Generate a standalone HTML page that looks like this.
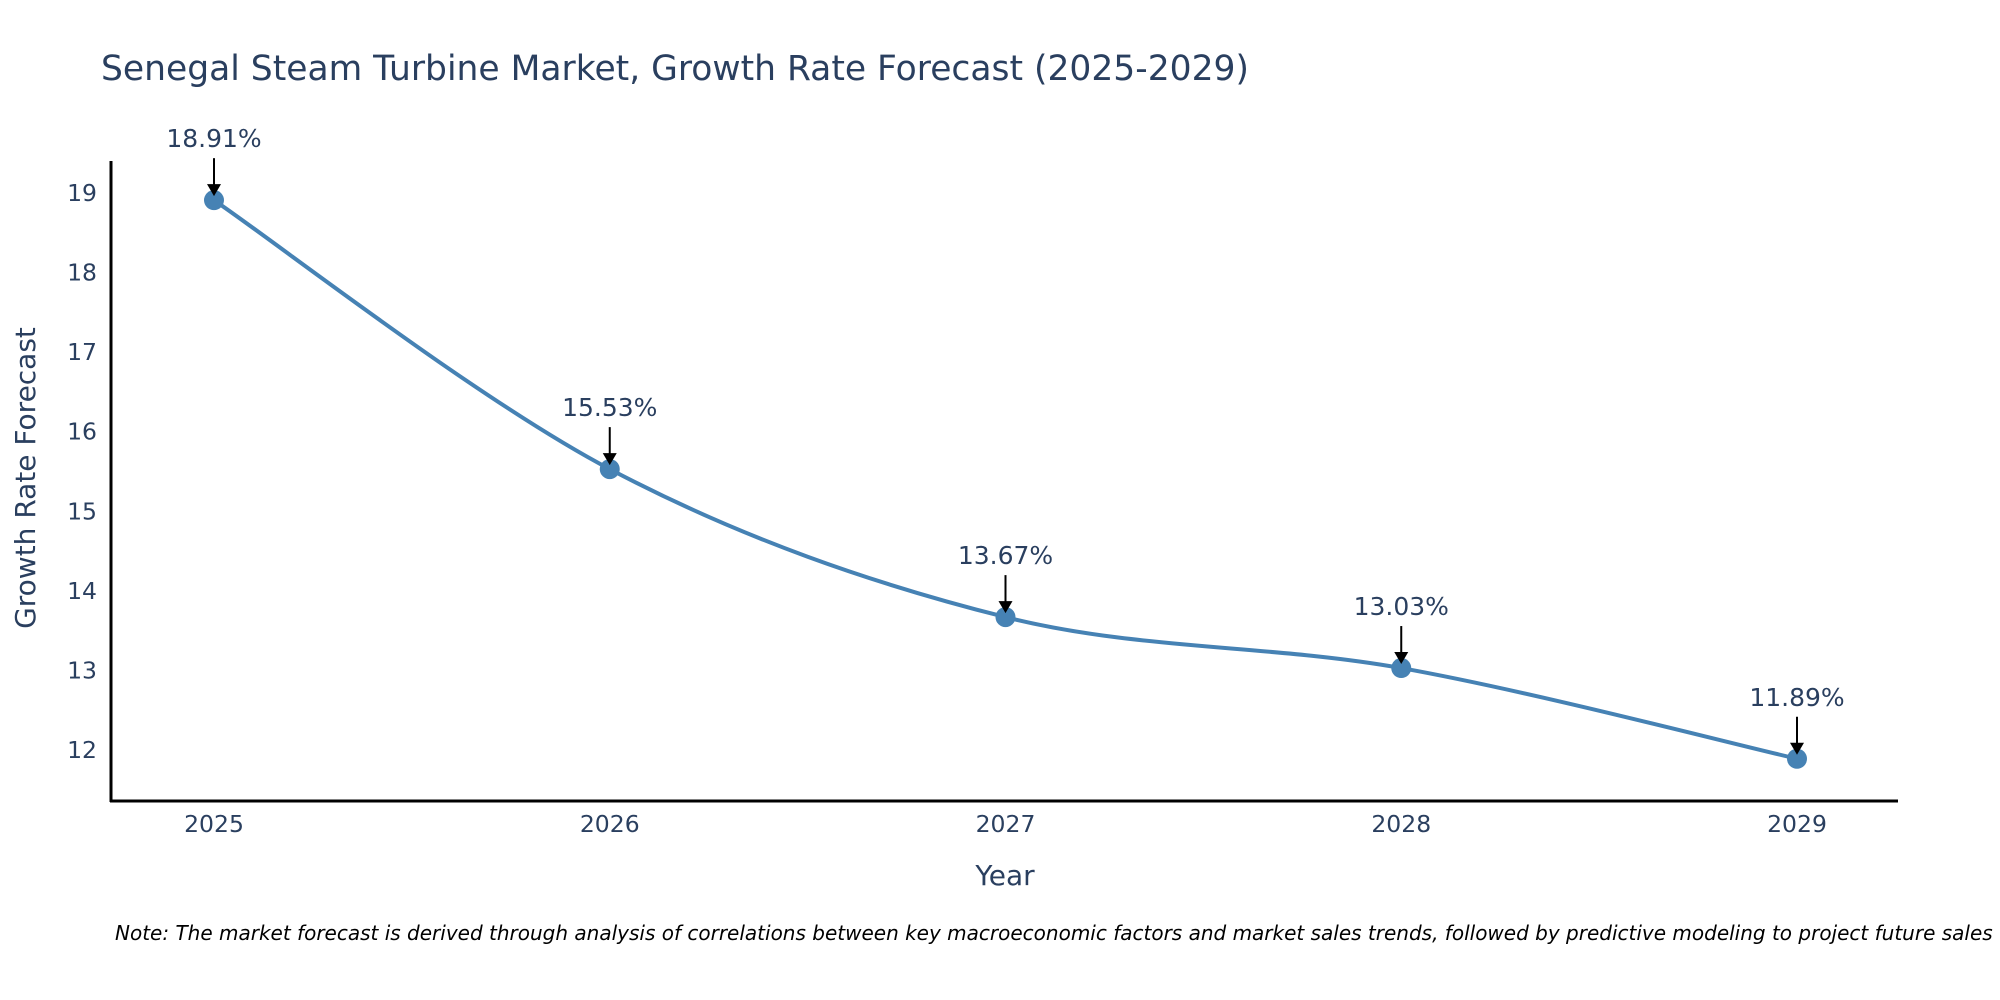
<!DOCTYPE html>
<html><head><meta charset="utf-8"><style>
body{margin:0;background:#fff;}
svg{display:block;font-family:"DejaVu Sans","Liberation Sans",sans-serif;}
</style></head><body>
<svg id="chart" width="2000" height="1000">
<text x="101" y="80" font-size="34.5" fill="#2a3f5f">Senegal Steam Turbine Market, Growth Rate Forecast (2025-2029)</text>
<line x1="111" y1="161" x2="111" y2="802" stroke="#000" stroke-width="3"/>
<line x1="110" y1="801" x2="1898" y2="801" stroke="#000" stroke-width="3"/>
<g id="yticks"></g><g id="xticks"></g>
<path id="line" fill="none" stroke="#4682b4" stroke-width="4"/>
<g id="points"></g><g id="annots"></g>
<text transform="translate(35,478) rotate(-90)" text-anchor="middle" font-size="28" fill="#2a3f5f">Growth Rate Forecast</text>
<text x="1005" y="885" text-anchor="middle" font-size="28" fill="#2a3f5f">Year</text>
<text x="115" y="940" font-size="20" font-style="italic" fill="#000">Note: The market forecast is derived through analysis of correlations between key macroeconomic factors and market sales trends, followed by predictive modeling to project future sales</text>
</svg>
<script>
const years=["2025","2026","2027","2028","2029"];
const values=[18.91,15.53,13.67,13.03,11.89];
const yTicks=[12,13,14,15,16,17,18,19];
const ns="http://www.w3.org/2000/svg";
function xs(i){return 214+i*(1797-214)/4;}
function ys(v){return 750-(v-12)*(750-193)/7;}
function mk(t,a,p){const e=document.createElementNS(ns,t);for(const k in a)e.setAttribute(k,a[k]);p.appendChild(e);return e;}
const yt=document.getElementById('yticks'),xt=document.getElementById('xticks');
yTicks.forEach(v=>{const t=mk('text',{x:97,y:ys(v)+8,'text-anchor':'end','font-size':23.5,fill:'#2a3f5f'},yt);t.textContent=v;

});
years.forEach((y,i)=>{const t=mk('text',{x:xs(i),y:832,'text-anchor':'middle','font-size':23.5,fill:'#2a3f5f'},xt);t.textContent=y;

});
const P=values.map((v,i)=>[xs(i),ys(v)]);
let d='M'+P[0][0]+','+P[0][1];const s=0.5/3*2;
for(let i=0;i<P.length-1;i++){const p0=P[Math.max(i-1,0)],p1=P[i],p2=P[i+1],p3=P[Math.min(i+2,P.length-1)];
d+=` C${p1[0]+(p2[0]-p0[0])*s/2},${p1[1]+(p2[1]-p0[1])*s/2} ${p2[0]-(p3[0]-p1[0])*s/2},${p2[1]-(p3[1]-p1[1])*s/2} ${p2[0]},${p2[1]}`;}
document.getElementById('line').setAttribute('d',d);
const pg=document.getElementById('points'),ag=document.getElementById('annots');
P.forEach((p,i)=>{const c=mk('circle',{cx:p[0],cy:p[1],r:10,fill:'#4682b4'},pg);


const l=mk('line',{x1:p[0],y1:p[1]-42,x2:p[0],y2:p[1]-14,stroke:'#000','stroke-width':2},ag);


const h=mk('polygon',{points:`${p[0]-7},${p[1]-16} ${p[0]+7},${p[1]-16} ${p[0]},${p[1]-4}`,fill:'#000'},ag);


const t=mk('text',{x:p[0],y:p[1]-53,'text-anchor':'middle','font-size':25,fill:'#2a3f5f'},ag);t.textContent=values[i].toFixed(2)+'%';

});
</script>
</body></html>
